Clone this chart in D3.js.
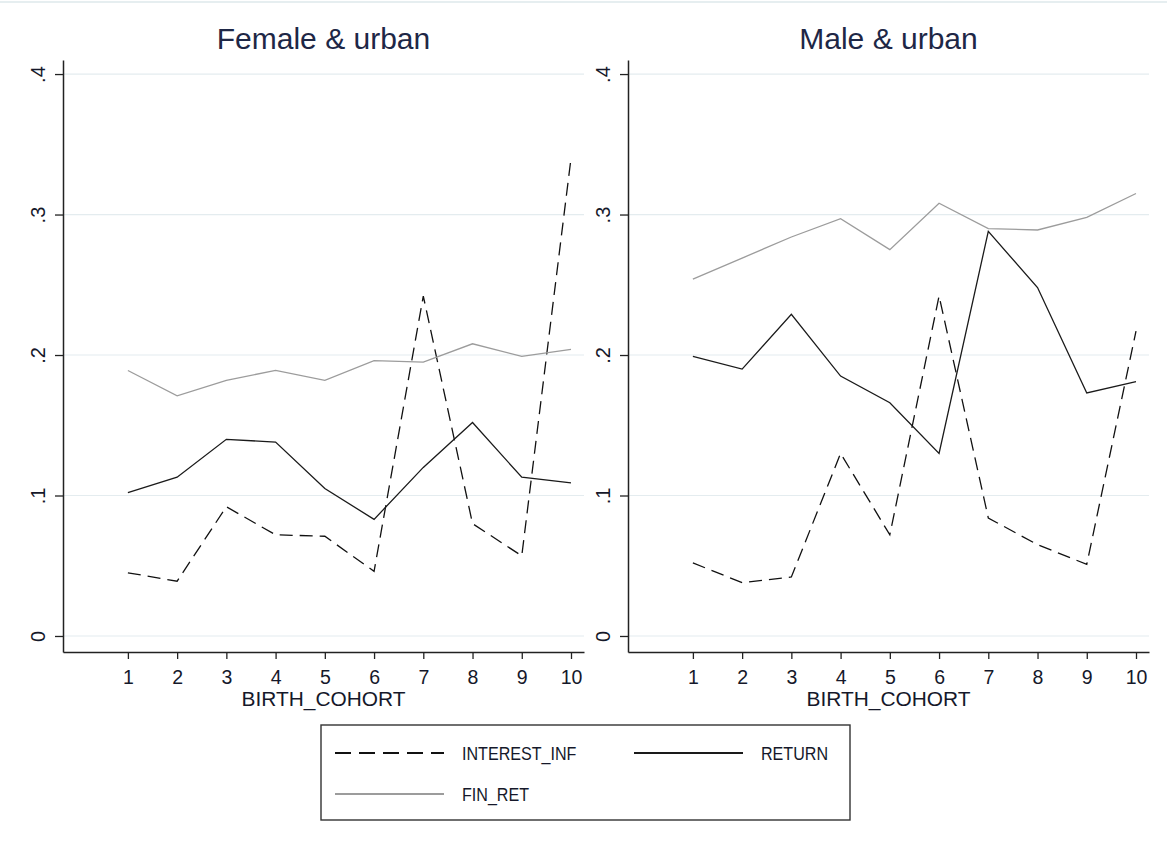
<!DOCTYPE html>
<html>
<head>
<meta charset="utf-8">
<script src="https://cdn.jsdelivr.net/npm/d3@7"></script>
<style>
  html, body { margin: 0; padding: 0; background: #ffffff; }
  svg { display: block; }
  text { font-family: "Liberation Sans", Arial, sans-serif; }
</style>
</head>
<body>
<svg id="chart" width="1167" height="846"></svg>
<script>
// Birth cohorts on the x axis
const cohorts = [1, 2, 3, 4, 5, 6, 7, 8, 9, 10];

// Y axis ticks and their labels
const yTicks = [0, 0.1, 0.2, 0.3, 0.4];
const yTickLabels = ["0", ".1", ".2", ".3", ".4"];

// Panel titles
const panelTitles = ["Female & urban", "Male & urban"];

// Series names
const seriesNames = ["INTEREST_INF", "RETURN", "FIN_RET"];

// Female & urban
const femaleInterestInf = [0.045, 0.039, 0.092, 0.072, 0.071, 0.046, 0.242, 0.080, 0.057, 0.340];
const femaleReturn      = [0.102, 0.113, 0.140, 0.138, 0.105, 0.083, 0.120, 0.152, 0.113, 0.109];
const femaleFinRet      = [0.189, 0.171, 0.182, 0.189, 0.182, 0.196, 0.195, 0.208, 0.199, 0.204];

// Male & urban
const maleInterestInf = [0.052, 0.038, 0.042, 0.130, 0.072, 0.242, 0.084, 0.065, 0.051, 0.217];
const maleReturn      = [0.199, 0.190, 0.229, 0.185, 0.166, 0.130, 0.288, 0.248, 0.173, 0.181];
const maleFinRet      = [0.254, 0.269, 0.284, 0.297, 0.275, 0.308, 0.290, 0.289, 0.298, 0.315];

const panels = [
  { title: panelTitles[0], series: [femaleInterestInf, femaleReturn, femaleFinRet] },
  { title: panelTitles[1], series: [maleInterestInf, maleReturn, maleFinRet] }
];

// Line styles per series
const styles = [
  { stroke: "#111111", width: 1.3, dash: "13,7" },
  { stroke: "#1a1a1a", width: 1.3, dash: null },
  { stroke: "#9c9c9c", width: 1.3, dash: null }
];

const svg = d3.select("#chart");
const textColor = "#15182a";
const titleColor = "#1e2746";

// faint rule along the top edge
svg.append("line")
  .attr("x1", 0).attr("x2", 1167).attr("y1", 2).attr("y2", 2)
  .attr("stroke", "#e6eef0").attr("stroke-width", 2);

const panelLeft = [63, 628];
const plotWidth = 521;
const plotTop = 60, plotBottom = 652;

panels.forEach((p, i) => {
  const left = panelLeft[i];
  const right = left + plotWidth;

  const x = d3.scaleLinear().domain([-0.318, 10.264]).range([left, right]);
  const y = d3.scaleLinear().domain([-0.0114, 0.41]).range([plotBottom, plotTop]);

  const g = svg.append("g");

  // horizontal grid lines
  g.append("g").selectAll("line").data(yTicks).join("line")
    .attr("x1", left).attr("x2", right)
    .attr("y1", d => y(d)).attr("y2", d => y(d))
    .attr("stroke", "#e4ecef").attr("stroke-width", 1.2);

  // series lines
  const line = d3.line().x((d, k) => x(cohorts[k])).y(d => y(d));
  p.series.forEach((vals, s) => {
    const st = styles[s];
    g.append("path")
      .datum(vals)
      .attr("d", line)
      .attr("fill", "none")
      .attr("stroke", st.stroke)
      .attr("stroke-width", st.width)
      .attr("stroke-dasharray", st.dash)
      .attr("stroke-linejoin", "miter");
  });

  // x axis
  const xAxis = g.append("g")
    .attr("transform", `translate(0,${plotBottom})`)
    .call(d3.axisBottom(x).tickValues(cohorts).tickSize(7).tickSizeOuter(0).tickPadding(4).tickFormat(d3.format("d")));
  xAxis.select(".domain").attr("stroke", "#222").attr("stroke-width", 1.5);
  xAxis.selectAll(".tick line").attr("stroke", "#222").attr("stroke-width", 1.3);
  xAxis.selectAll(".tick text")
    .attr("y", 32).attr("dy", 0)
    .attr("fill", textColor)
    .style("font-size", "19.5px")
    .style("font-family", "'Liberation Sans', Arial, sans-serif");

  // y axis
  const yAxis = g.append("g")
    .attr("transform", `translate(${left},0)`)
    .call(d3.axisLeft(y).tickValues(yTicks).tickSize(8).tickSizeOuter(0)
      .tickFormat((d, k) => yTickLabels[k]));
  yAxis.select(".domain").attr("stroke", "#222").attr("stroke-width", 1.5);
  yAxis.selectAll(".tick line").attr("stroke", "#222").attr("stroke-width", 1.3);
  yAxis.selectAll(".tick text")
    .attr("x", null).attr("dy", null)
    .attr("text-anchor", "middle")
    .attr("transform", "translate(-18,0) rotate(-90)")
    .attr("fill", textColor)
    .style("font-size", "20px")
    .style("font-family", "'Liberation Sans', Arial, sans-serif");

  // panel title
  svg.append("text")
    .attr("x", (left + right) / 2).attr("y", 49)
    .attr("text-anchor", "middle")
    .attr("fill", titleColor)
    .style("font-size", "30px")
    .text(p.title);

  // x axis title
  svg.append("text")
    .attr("x", (left + right) / 2).attr("y", 706)
    .attr("text-anchor", "middle")
    .attr("fill", textColor)
    .style("font-size", "20px")
    .attr("textLength", 164)
    .attr("lengthAdjust", "spacingAndGlyphs")
    .text("BIRTH_COHORT");
});

// legend
const legend = svg.append("g");
legend.append("rect")
  .attr("x", 321).attr("y", 725).attr("width", 529).attr("height", 95)
  .attr("fill", "#fff").attr("stroke", "#333").attr("stroke-width", 1.4);

const legendItems = [
  { name: seriesNames[0], style: styles[0], lx: 335, ly: 753 },
  { name: seriesNames[1], style: styles[1], lx: 634, ly: 753 },
  { name: seriesNames[2], style: styles[2], lx: 335, ly: 794 }
];
legendItems.forEach(it => {
  legend.append("line")
    .attr("x1", it.lx).attr("x2", it.lx + 109)
    .attr("y1", it.ly).attr("y2", it.ly)
    .attr("stroke", it.style.stroke)
    .attr("stroke-width", 2.2)
    .attr("stroke-dasharray", it.style.dash ? "16,8" : null);
  legend.append("text")
    .attr("transform", `translate(${it.lx + 127},${it.ly + 7}) scale(0.87,1)`)
    .attr("fill", textColor)
    .style("font-size", "18.5px")
    .text(it.name);
});
</script>
</body>
</html>
